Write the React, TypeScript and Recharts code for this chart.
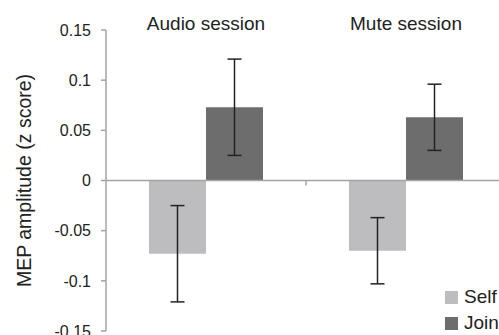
import {
  BarChart,
  Bar,
  XAxis,
  YAxis,
  ErrorBar,
  ReferenceLine,
  Legend,
} from "recharts";

// values
const sessions = ["Audio session", "Mute session"];
const selfMean = [-0.073, -0.07];
const selfErr = [0.048, 0.033];
const jointMean = [0.073, 0.063];
const jointErr = [0.048, 0.033];
const yTicks = [-0.15, -0.1, -0.05, 0, 0.05, 0.1, 0.15];
const seriesNames = ["Self", "Joint"];

const data = sessions.map((s, i) => ({
  session: s,
  self: selfMean[i],
  selfErr: selfErr[i],
  joint: jointMean[i],
  jointErr: jointErr[i],
}));

const axisGray = "#a3a3a3";

function LegendBox({ payload }: any) {
  return (
    <div>
      {(payload || []).map((e: any) => (
        <div
          key={e.value}
          style={{ display: "flex", alignItems: "center", height: 26 }}
        >
          <span
            style={{
              display: "inline-block",
              width: 13,
              height: 13,
              background: e.color,
              marginRight: 6,
            }}
          />
          <span style={{ color: "#222", whiteSpace: "nowrap" }}>{e.value}</span>
        </div>
      ))}
    </div>
  );
}

// little tick at the boundary between the two sessions
function MidTick(props: any) {
  const vb = props.viewBox;
  if (!vb) return null;
  const cx = 306;
  return (
    <line
      x1={cx}
      x2={cx}
      y1={vb.y}
      y2={vb.y + 5}
      stroke={axisGray}
      strokeWidth={1.5}
    />
  );
}

export default function App() {
  return (
    <div
      style={{
        position: "absolute",
        left: 0,
        top: 0,
        width: 499,
        height: 335,
        overflow: "hidden",
        background: "#fff",
        fontFamily: "'Liberation Sans', Arial, sans-serif",
      }}
    >
      <BarChart
        width={510}
        height={335}
        data={data}
        margin={{ top: 0, right: 4, bottom: 4, left: 0 }}
        barCategoryGap="21.5%"
        barGap={0}
      >
        <XAxis
          dataKey="session"
          orientation="top"
          axisLine={false}
          tickLine={false}
          tickSize={0}
          tickMargin={0}
          height={30}
          tick={{ fontSize: 19, fill: "#222" }}
          interval={0}
        />
        <YAxis
          width={106}
          domain={[-0.15, 0.15]}
          ticks={yTicks}
          interval={0}
          allowDataOverflow
          tickFormatter={(v: number) => String(v)}
          axisLine={{ stroke: axisGray, strokeWidth: 1.5 }}
          tickLine={{ stroke: axisGray, strokeWidth: 1.5 }}
          tickSize={5}
          tickMargin={10}
          tick={{ fontSize: 16, fill: "#222" }}
          label={{
            value: "MEP amplitude (z score)",
            angle: -90,
            position: "insideLeft",
            offset: 24,
            style: { textAnchor: "middle", fontSize: 19.5, fill: "#222" },
          }}
        />
        <ReferenceLine
          y={0}
          stroke={axisGray}
          strokeWidth={1.5}
          label={(p: any) => <MidTick {...p} />}
        />
        <Bar dataKey="self" name="Self" fill="#bdbdbf" isAnimationActive={false}>
          <ErrorBar
            dataKey="selfErr"
            width={7}
            stroke="#222"
            strokeWidth={1.5}
            isAnimationActive={false}
          />
        </Bar>
        <Bar dataKey="joint" name="Joint" fill="#6d6d6d" isAnimationActive={false}>
          <ErrorBar
            dataKey="jointErr"
            width={7}
            stroke="#222"
            strokeWidth={1.5}
            isAnimationActive={false}
          />
        </Bar>
        <Legend
          layout="vertical"
          align="center"
          verticalAlign="middle"
          itemSorter={(item: any) => seriesNames.indexOf(item.value)}
          wrapperStyle={{ left: 445, top: 284, width: 100, fontSize: 19 }}
          content={<LegendBox />}
        />
      </BarChart>
    </div>
  );
}
